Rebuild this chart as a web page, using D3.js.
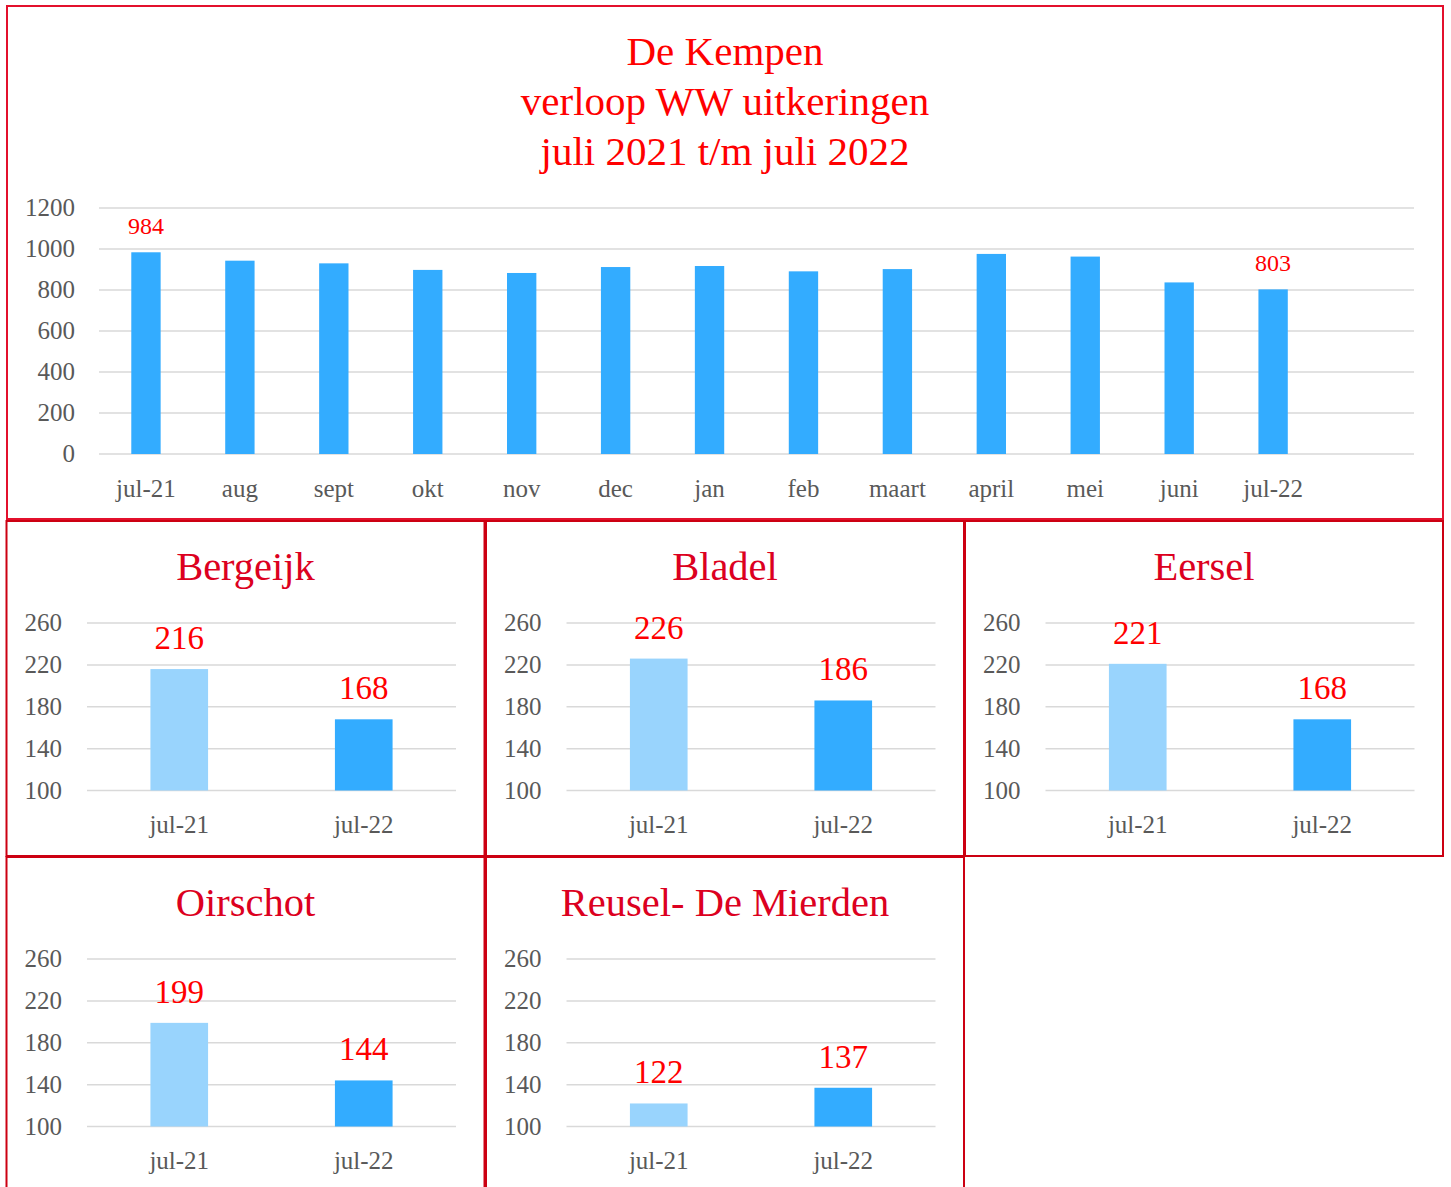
<!DOCTYPE html>
<html>
<head>
<meta charset="utf-8">
<script src="https://cdn.jsdelivr.net/npm/d3@7"></script>
<style>
  body { margin: 0; background: #fff; }
  text { font-family: "Liberation Serif", serif; }
</style>
</head>
<body>
<svg id="chart" width="1451" height="1187"></svg>
<script>
// De Kempen totals, jul-21 .. jul-22 (the trailing "" is an empty slot in the axis)
const months = ["jul-21", "aug", "sept", "okt", "nov", "dec", "jan", "feb", "maart", "april", "mei", "juni", "jul-22", ""];
const totals = [984, 943, 930, 898, 883, 912, 917, 891, 902, 976, 963, 837, 803];
const totalTicks = [0, 200, 400, 600, 800, 1000, 1200];
const titleLines = ["De Kempen", "verloop WW uitkeringen", "juli 2021 t/m juli 2022"];

// per gemeente
const gemeenten = ["Bergeijk", "Bladel", "Eersel", "Oirschot", "Reusel- De Mierden"];
const periods = ["jul-21", "jul-22"];
const jul21 = [216, 226, 221, 199, 122];
const jul22 = [168, 186, 168, 144, 137];
const panelTicks = [100, 140, 180, 220, 260];

const GRID = "#d9d9d9", TICK = "#595959";
const BAR = "#33acff", BAR_LIGHT = "#99d4fd";
const GAP = 0.6875;

const svg = d3.select("#chart");

// ---------- main chart ----------
svg.append("rect")
  .attr("x", 7).attr("y", 6).attr("width", 1436).attr("height", 513)
  .attr("fill", "none").attr("stroke", "#e3102c").attr("stroke-width", 2);

svg.append("g").selectAll("text").data(titleLines).join("text")
  .attr("x", 725).attr("y", (d, i) => 65 + i * 50)
  .attr("text-anchor", "middle")
  .attr("font-size", 41).attr("fill", "#ff0000")
  .text(d => d);

const x = d3.scaleBand().domain(months).range([99, 1414])
  .paddingInner(GAP).paddingOuter(GAP / 2);
const y = d3.scaleLinear().domain([0, 1200]).range([454, 208]);

const main = svg.append("g");

main.append("g").selectAll("line").data(totalTicks).join("line")
  .attr("x1", 99).attr("x2", 1414)
  .attr("y1", d => y(d)).attr("y2", d => y(d))
  .attr("stroke", GRID).attr("stroke-width", 1.5);

main.append("g").selectAll("text").data(totalTicks).join("text")
  .attr("x", 75).attr("y", d => y(d)).attr("dy", "0.32em")
  .attr("text-anchor", "end").attr("font-size", 25).attr("fill", TICK)
  .text(d => d);

main.append("g").selectAll("rect").data(totals).join("rect")
  .attr("x", (d, i) => x(months[i]))
  .attr("width", x.bandwidth())
  .attr("y", d => y(d))
  .attr("height", d => y(0) - y(d))
  .attr("fill", BAR);

main.append("g").selectAll("text").data(months.filter(m => m !== "")).join("text")
  .attr("x", d => x(d) + x.bandwidth() / 2).attr("y", 497)
  .attr("text-anchor", "middle").attr("font-size", 25).attr("fill", TICK)
  .text(d => d);

// value labels only on first and last month
const last = totals.length - 1;
main.append("g").selectAll("text").data([0, last]).join("text")
  .attr("x", i => x(months[i]) + x.bandwidth() / 2)
  .attr("y", i => y(totals[i]) - 18)
  .attr("text-anchor", "middle").attr("font-size", 24).attr("fill", "#ff0000")
  .text(i => totals[i]);

// ---------- small panels ----------
const panelW = 478;
const panelPos = [[6.5, 521], [486, 521], [965, 521], [6.5, 857], [486, 857]];

gemeenten.forEach((name, k) => {
  const [px, py] = panelPos[k];
  const g = svg.append("g").attr("transform", `translate(${px},${py})`);

  g.append("rect")
    .attr("width", panelW).attr("height", k < 3 ? 335 : 340)
    .attr("fill", "none").attr("stroke", "#cc0012").attr("stroke-width", 2);

  g.append("text")
    .attr("x", panelW / 2).attr("y", 59)
    .attr("text-anchor", "middle").attr("font-size", 40.5).attr("fill", "#dc0020")
    .text(name);

  const px0 = 80.5, px1 = 449.5;
  const bx = d3.scaleBand().domain(periods).range([px0, px1])
    .paddingInner(GAP).paddingOuter(GAP / 2);
  const by = d3.scaleLinear().domain([100, 260]).range([269.5, 102]);

  g.append("g").selectAll("line").data(panelTicks).join("line")
    .attr("x1", px0).attr("x2", px1)
    .attr("y1", d => by(d)).attr("y2", d => by(d))
    .attr("stroke", GRID).attr("stroke-width", 1.5);

  g.append("g").selectAll("text").data(panelTicks).join("text")
    .attr("x", 55.5).attr("y", d => by(d)).attr("dy", "0.32em")
    .attr("text-anchor", "end").attr("font-size", 25).attr("fill", TICK)
    .text(d => d);

  const vals = [jul21[k], jul22[k]];
  g.append("g").selectAll("rect").data(vals).join("rect")
    .attr("x", (d, i) => bx(periods[i]))
    .attr("width", bx.bandwidth())
    .attr("y", d => by(d))
    .attr("height", d => by(100) - by(d))
    .attr("fill", (d, i) => i === 0 ? BAR_LIGHT : BAR);

  g.append("g").selectAll("text.val").data(vals).join("text")
    .attr("x", (d, i) => bx(periods[i]) + bx.bandwidth() / 2)
    .attr("y", d => by(d) - 20)
    .attr("text-anchor", "middle").attr("font-size", 33).attr("fill", "#ff0000")
    .text(d => d);

  g.append("g").selectAll("text.cat").data(periods).join("text")
    .attr("x", d => bx(d) + bx.bandwidth() / 2).attr("y", 312)
    .attr("text-anchor", "middle").attr("font-size", 25).attr("fill", TICK)
    .text(d => d);
});
</script>
</body>
</html>
